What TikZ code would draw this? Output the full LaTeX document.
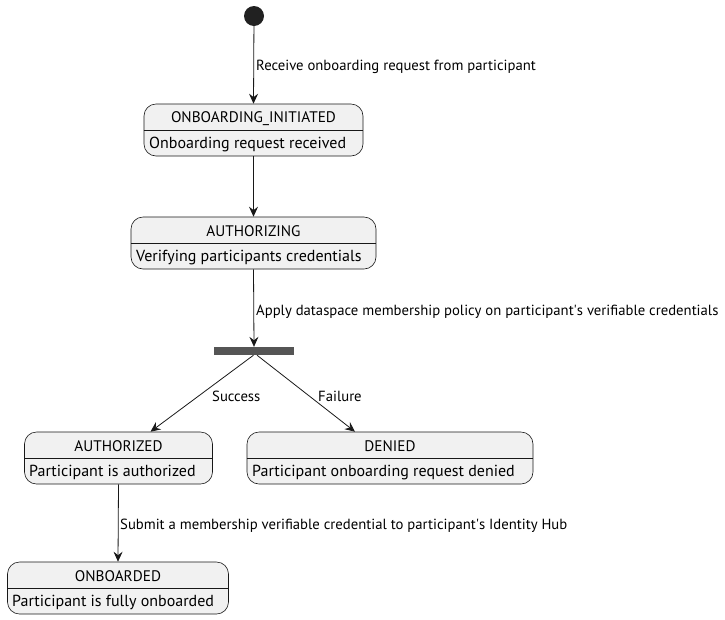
\documentclass[tikz,border=0pt]{standalone}
\usepackage{fontspec}
\setmainfont{PT Sans}
\usetikzlibrary{arrows.meta}
\definecolor{boxfill}{HTML}{F1F1F1}
\definecolor{edgecol}{HTML}{181818}
\definecolor{forkcol}{HTML}{555555}
\begin{document}
\begin{tikzpicture}[x=1pt, y=-1pt,
  state/.style = {draw=edgecol, fill=boxfill, rounded corners=12pt, line width=0.6pt, minimum height=52pt, inner sep=0pt},
  title/.style = {font=\fontsize{15.3}{17}\selectfont, inner sep=0pt},
  body/.style = {font=\fontsize{16}{18}\selectfont, inner sep=0pt, anchor=west},
  divider/.style = {draw=edgecol, line width=0.6pt},
  trans/.style = {draw=edgecol, line width=0.8pt, -{Stealth[length=10pt, width=9pt, inset=3.5pt]}},
  lbl/.style = {font=\fontsize{14.7}{16}\selectfont, inner sep=0pt, anchor=west}]
\useasboundingbox (0,0) rectangle (725,619);
% start point and fork bar
\node[fill=black!87, circle, minimum size=20pt, inner sep=0pt] (start) at (254,16) {};
\node[fill=forkcol, minimum width=80pt, minimum height=8pt, inner sep=0pt] (fork) at (254,351) {};
% states
\node[state, minimum width=219pt] (init) at (253.5,130) {};
\node[title] (initT) at (253.5,118.5) {ONBOARDING\_INITIATED};
\node[body] (initB) at (149,144.5) {Onboarding request received};
\draw[divider] (init.west) -- (init.east);
\node[state, minimum width=245pt] (authz) at (253.5,243) {};
\node[title] (authzT) at (253.5,231.5) {AUTHORIZING};
\node[body] (authzB) at (136,257.5) {Verifying participants credentials};
\draw[divider] (authz.west) -- (authz.east);
\node[state, minimum width=188pt] (authd) at (118.5,458) {};
\node[title] (authdT) at (118.5,446.5) {AUTHORIZED};
\node[body] (authdB) at (29,472.5) {Participant is authorized};
\draw[divider] (authd.west) -- (authd.east);
\node[state, minimum width=286pt] (denied) at (390,458) {};
\node[title] (deniedT) at (390,446.5) {DENIED};
\node[body] (deniedB) at (252,472.5) {Participant onboarding request denied};
\draw[divider] (denied.west) -- (denied.east);
\node[state, minimum width=221pt] (onb) at (118,588) {};
\node[title] (onbT) at (118,576.5) {ONBOARDED};
\node[body] (onbB) at (12,602.5) {Participant is fully onboarded};
\draw[divider] (onb.west) -- (onb.east);
% transitions
\draw[trans] (start) -- (init.north);
\node[lbl] (l1) at (256,66.5) {Receive onboarding request from participant};
\draw[trans] (init.south) -- (authz.north);
\draw[trans] (authz.south) -- (fork.north);
\node[lbl] (l2) at (256,311.5) {Apply dataspace membership policy on participant\textquotesingle s verifiable credentials};
\draw[trans] ([xshift=-0.5pt]fork.south) -- ([xshift=32pt]authd.north);
\node[lbl] (l3) at (212,396) {Success};
\draw[trans] ([xshift=3pt]fork.south) -- ([xshift=-35pt]denied.north);
\node[lbl] (l4) at (318,396) {Failure};
\draw[trans] (authd.south) -- (onb.north);
\node[lbl] (l5) at (120,525.5) {Submit a membership verifiable credential to participant\textquotesingle s Identity Hub};
\end{tikzpicture}
\end{document}
